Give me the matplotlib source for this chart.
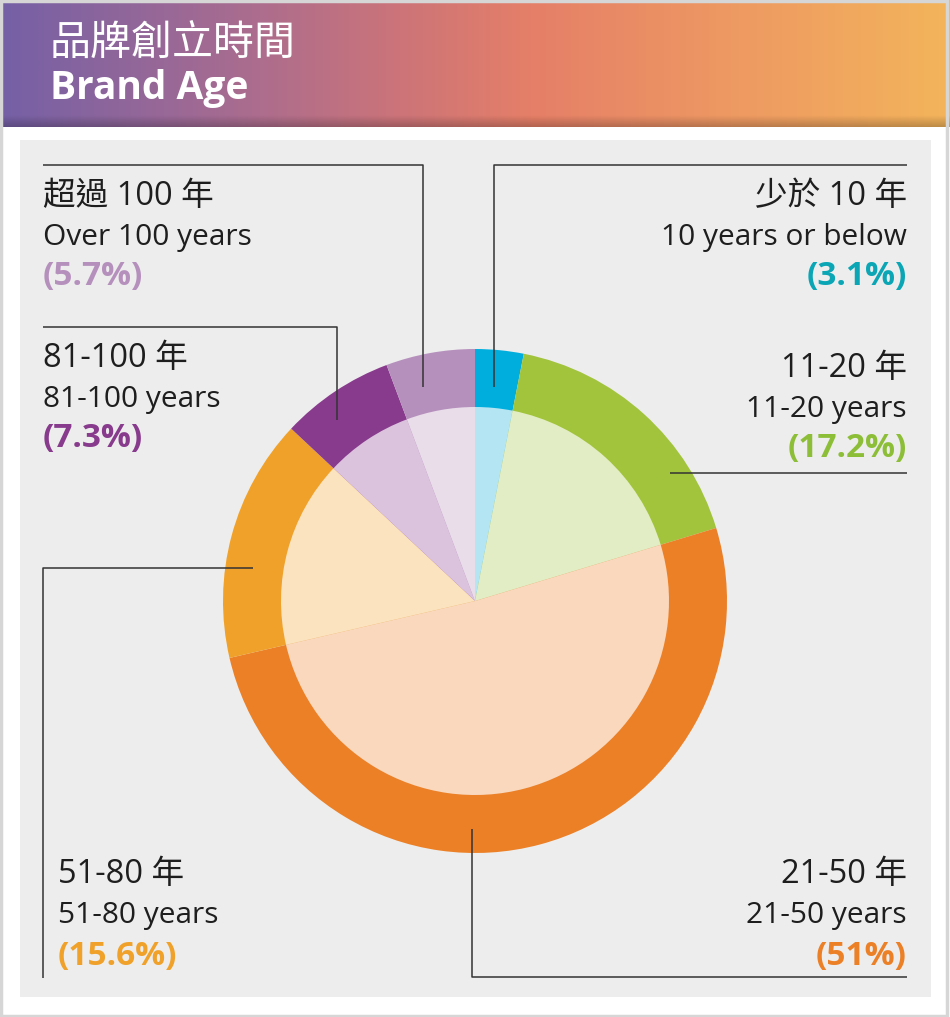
import numpy as np
import matplotlib
matplotlib.use('Agg')
import matplotlib.pyplot as plt
from matplotlib.colors import LinearSegmentedColormap
from matplotlib.patches import Rectangle

W, H = 950, 1017

# Data
shares = [3.1, 17.2, 51, 15.6, 7.3, 5.7]
labels_zh = ['少於 10 年', '11-20 年', '21-50 年', '51-80 年', '81-100 年', '超過 100 年']
labels_en = ['10 years or below', '11-20 years', '21-50 years', '51-80 years',
             '81-100 years', 'Over 100 years']
pct_text = ['(3.1%)', '(17.2%)', '(51%)', '(15.6%)', '(7.3%)', '(5.7%)']

outer_colors = ['#00AEDE', '#A2C43C', '#EB8027', '#F0A12A', '#883A8D', '#B690BD']
inner_colors = ['#B4E5F3', '#E2EDC5', '#F9D8BE', '#FBE3BF', '#DBC3DE', '#E9DDEA']
pct_colors = ['#0AA6B5', '#8DBE38', '#EB8027', '#F0A12A', '#883A8D', '#B690BD']

FONT = ['Open Sans', 'Noto Sans CJK TC', 'DejaVu Sans']
plt.rcParams['font.family'] = FONT


def Y(y):
    # pixel row (top down) -> data y
    return H - y


fig = plt.figure(figsize=(W / 100, H / 100), dpi=100)
ax = fig.add_axes([0, 0, 1, 1])

# header gradient
cmap = LinearSegmentedColormap.from_list('hdr', [
    (0.0, '#7560A6'), (0.25, '#A86C90'), (0.42, '#CC7479'),
    (0.56, '#E57F68'), (0.78, '#EE9A62'), (1.0, '#F3B45B')])
grad = np.linspace(0, 1, 512).reshape(1, -1)
ax.imshow(grad, cmap=cmap, aspect='auto', extent=(0, W, Y(127), Y(0)), zorder=1)
# soft shadow at the bottom of the header
shade = np.zeros((20, 1, 4))
shade[:, 0, 3] = np.linspace(0, 0.22, 20)
ax.imshow(shade, aspect='auto', extent=(0, W, Y(127), Y(115)), zorder=2)

# grey panel
ax.add_patch(Rectangle((20, Y(997)), 911, 857, facecolor='#EDEDED', edgecolor='none', zorder=1))
# thin outer frame
ax.add_patch(Rectangle((1, 1), W - 4, H - 2, facecolor='none', edgecolor='#D6D6D6', lw=2.5, zorder=5))

# title
ax.text(50, Y(44), '品牌創立時間', color='white', fontsize=29.5, va='center', ha='left',
        family=['Noto Sans CJK TC'], zorder=3)
ax.text(50, Y(88), 'Brand Age', color='white', fontsize=28, fontweight='bold',
        va='center', ha='left', zorder=3)

# pie: outer ring and lighter inner disk
cx, cy = 475, Y(601)
ax.pie(shares, colors=outer_colors, radius=252, center=(cx, cy), startangle=90,
       counterclock=False, wedgeprops=dict(linewidth=0))
ax.pie(shares, colors=inner_colors, radius=194, center=(cx, cy), startangle=90,
       counterclock=False, wedgeprops=dict(linewidth=0))

# leader lines (pixel coordinates)
lc = '#333333'
lw = 1.1
leaders = [
    [(494, 387), (494, 165), (907, 165)],
    [(670, 473), (907, 473)],
    [(472, 829), (472, 977), (907, 977)],
    [(253, 568), (43, 568), (43, 978)],
    [(337, 420), (337, 327), (43, 327)],
    [(423, 387), (423, 165), (43, 165)],
]
for pts in leaders:
    xs = [p[0] for p in pts]
    ys = [Y(p[1]) for p in pts]
    ax.plot(xs, ys, color=lc, lw=lw, zorder=4, solid_capstyle='butt')

# label blocks: (x, top line center, alignment)
blocks = [(907, 196, 'right'), (907, 368, 'right'), (907, 875, 'right'),
          (58, 875, 'left'), (43, 358, 'left'), (43, 196, 'left')]
for i, (x, y0, ha) in enumerate(blocks):
    ax.text(x, Y(y0), labels_zh[i], fontsize=23.5, ha=ha, va='center', color='#1E1E1E', zorder=4)
    ax.text(x, Y(y0 + 41), labels_en[i], fontsize=21.5, ha=ha, va='center', color='#1E1E1E', zorder=4)
    ax.text(x, Y(y0 + 81), pct_text[i], fontsize=24, ha=ha, va='center',
            color=pct_colors[i], fontweight='bold', zorder=4)

ax.set_xlim(0, W)
ax.set_ylim(0, H)
ax.set_aspect('auto')
ax.axis('off')

fig.savefig('out.png', dpi=100, facecolor='white')
